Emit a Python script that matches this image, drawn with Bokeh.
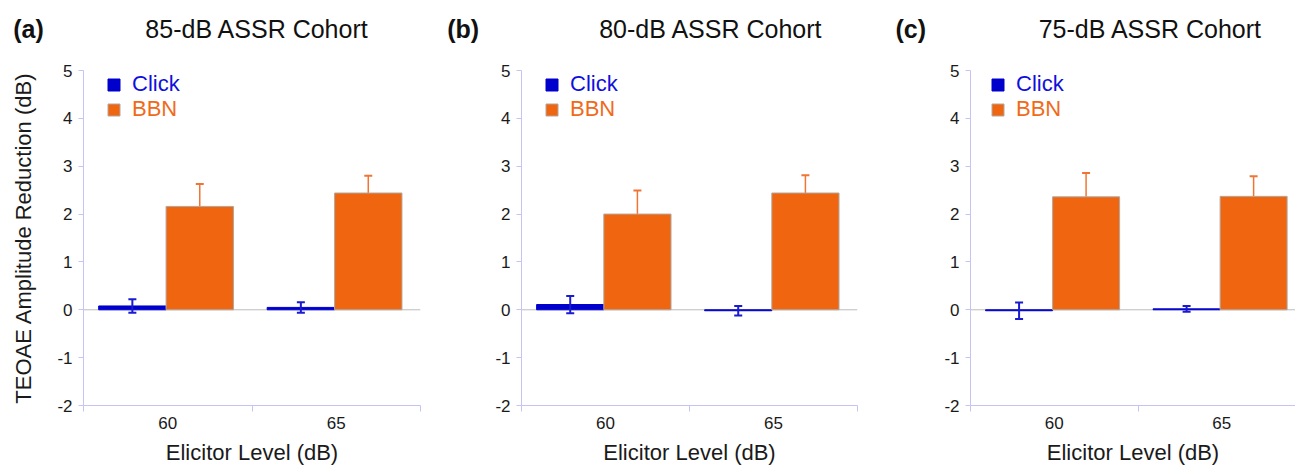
from bokeh.plotting import figure
from bokeh.models import (Range1d, FixedTicker, Whisker, TeeHead, Span,
                          Legend, LegendItem, ColumnDataSource)
from bokeh.core.properties import value
from bokeh.layouts import row, column
from bokeh.embed import file_html
from bokeh.resources import INLINE

# ---- data ----
levels = ["60", "65"]
series_names = ["Click", "BBN"]
panel_tags = ["(a)", "(b)", "(c)"]
panel_titles = ["85-dB ASSR Cohort", "80-dB ASSR Cohort", "75-dB ASSR Cohort"]

click_85 = [0.08, 0.05]
click_85_err = [0.14, 0.11]
bbn_85 = [2.16, 2.44]
bbn_85_err = [0.47, 0.36]

click_80 = [0.11, -0.02]
click_80_err = [0.18, 0.10]
bbn_80 = [2.00, 2.44]
bbn_80_err = [0.49, 0.37]

click_75 = [-0.02, 0.02]
click_75_err = [0.17, 0.06]
bbn_75 = [2.36, 2.37]
bbn_75_err = [0.50, 0.42]

y_ticks = [-2, -1, 0, 1, 2, 3, 4, 5]

# ---- style ----
FONT = "Liberation Sans"
BLUE = "#0000cc"
BLUE_ERR = "#1a1ad0"
ORANGE = "#f06510"
ORANGE_ERR = "#f07535"
AXIS_C = "#c4c4f6"
TXT = "#1a1a1a"
HEAD_H = 50
H = 417
BT, BB = 20, 59
FH = H - BT - BB


def make_header(k, width, tag_x, title_x):
    h = figure(width=width, height=HEAD_H, x_range=Range1d(0, width), y_range=Range1d(0, HEAD_H),
               output_backend="svg", toolbar_location=None,
               x_axis_location=None, y_axis_location=None,
               min_border=0, min_border_left=0, min_border_right=0,
               min_border_top=0, min_border_bottom=0)
    h.outline_line_color = None
    h.xgrid.visible = False
    h.ygrid.visible = False
    h.text(x=[tag_x], y=[HEAD_H - 28], text=[panel_tags[k]], text_font=value(FONT),
           text_font_size=value("25px"), text_font_style="bold", text_color="#111111",
           text_align="left", text_baseline="middle")
    h.text(x=[title_x], y=[HEAD_H - 28], text=[panel_titles[k]], text_font=value(FONT),
           text_font_size=value("25px"), text_color="#111111",
           text_align="center", text_baseline="middle")
    return h


def make_panel(k, click, click_err, bbn, bbn_err, width, bl, br, xmax, ylabel, leg_dx):
    p = figure(width=width, height=H, x_range=Range1d(0, xmax), y_range=Range1d(-2, 5),
               output_backend="svg", toolbar_location=None,
               min_border_left=bl, min_border_right=br,
               min_border_top=BT, min_border_bottom=BB)
    p.outline_line_color = None
    p.xgrid.visible = False
    p.ygrid.visible = False

    p.add_layout(Span(location=0, dimension="width", line_color="#bdbdbd",
                      line_width=1, level="underlay"))

    idx = list(range(len(levels)))
    cx = [i + 0.29 for i in idx]
    bx = [i + 0.69 for i in idx]
    csrc = ColumnDataSource(dict(x=cx, top=click,
                                 upper=[v + e for v, e in zip(click, click_err)],
                                 lower=[v - e for v, e in zip(click, click_err)]))
    bsrc = ColumnDataSource(dict(x=bx, top=bbn,
                                 upper=[v + e for v, e in zip(bbn, bbn_err)],
                                 lower=list(bbn)))
    rc = p.vbar(x="x", top="top", bottom=0, width=0.4, source=csrc,
                fill_color=BLUE, line_color=BLUE, line_width=1)
    rb = p.vbar(x="x", top="top", bottom=0, width=0.4, source=bsrc,
                fill_color=ORANGE, line_color="#b0a8a0", line_width=1)

    wc = Whisker(base="x", upper="upper", lower="lower", source=csrc, dimension="height",
                 line_color=BLUE_ERR, line_width=2,
                 upper_head=TeeHead(size=8, line_color=BLUE_ERR, line_width=2),
                 lower_head=TeeHead(size=8, line_color=BLUE_ERR, line_width=2),
                 level="overlay")
    wb = Whisker(base="x", upper="upper", lower="lower", source=bsrc, dimension="height",
                 line_color=ORANGE_ERR, line_width=1.5,
                 upper_head=TeeHead(size=8, line_color=ORANGE_ERR, line_width=2),
                 lower_head=None, level="underlay")
    p.add_layout(wc)
    p.add_layout(wb)

    for ax in (p.xaxis[0], p.yaxis[0]):
        ax.axis_line_color = AXIS_C
        ax.axis_line_width = 1
        ax.major_label_text_font = FONT
        ax.major_label_text_font_size = "17px"
        ax.major_label_text_color = TXT
        ax.axis_label_text_font = FONT
        ax.axis_label_text_font_size = "22px"
        ax.axis_label_text_font_style = "normal"
        ax.axis_label_text_color = TXT

    ya = p.yaxis[0]
    ya.ticker = FixedTicker(ticks=y_ticks)
    ya.major_label_overrides = {t: str(t) for t in y_ticks}
    ya.major_tick_line_color = AXIS_C
    ya.major_tick_out = 5
    ya.major_tick_in = 0
    ya.minor_tick_line_color = None
    ya.major_label_standoff = 6
    if ylabel:
        ya.axis_label = ylabel
        ya.axis_label_standoff = 18

    xa = p.xaxis[0]
    xa.ticker = FixedTicker(ticks=[i + 0.5 for i in idx], minor_ticks=[0, 1, 2])
    xa.major_label_overrides = {i + 0.5: lab for i, lab in zip(idx, levels)}
    xa.major_tick_line_color = None
    xa.minor_tick_line_color = AXIS_C
    xa.minor_tick_out = 6
    xa.minor_tick_in = 0
    xa.major_label_standoff = 5
    xa.axis_label = "Elicitor Level (dB)"
    xa.axis_label_standoff = 8

    for name, r, col, ly in ((series_names[0], rc, "#1010dd", FH - 30),
                             (series_names[1], rb, "#f06a1a", FH - 55)):
        lg = Legend(items=[LegendItem(label=name, renderers=[r])], location=(leg_dx, ly),
                    label_text_color=col, label_text_font=FONT, label_text_font_size="22px",
                    glyph_width=15, glyph_height=15, border_line_color=None,
                    background_fill_alpha=0, padding=0, margin=0, spacing=0,
                    label_standoff=11)
        p.add_layout(lg)
    return p


ha = make_header(0, 440, 12.7, 256.7)
hb = make_header(1, 430, 6.7, 270.5)
hc = make_header(2, 425, 25, 280)

pa = make_panel(0, click_85, click_85_err, bbn_85, bbn_85_err, 440, 83, 20, 2.0,
                "TEOAE Amplitude Reduction (dB)", 23)
pb = make_panel(1, click_80, click_80_err, bbn_80, bbn_80_err, 430, 81, 13, 2.0,
                None, 23)
pc = make_panel(2, click_75, click_75_err, bbn_75, bbn_75_err, 425, 100, 0, 1.94,
                None, 20)

layout = column(row(ha, hb, hc, spacing=0), row(pa, pb, pc, spacing=0), spacing=0)
open("out.html", "w").write(file_html(layout, INLINE))
